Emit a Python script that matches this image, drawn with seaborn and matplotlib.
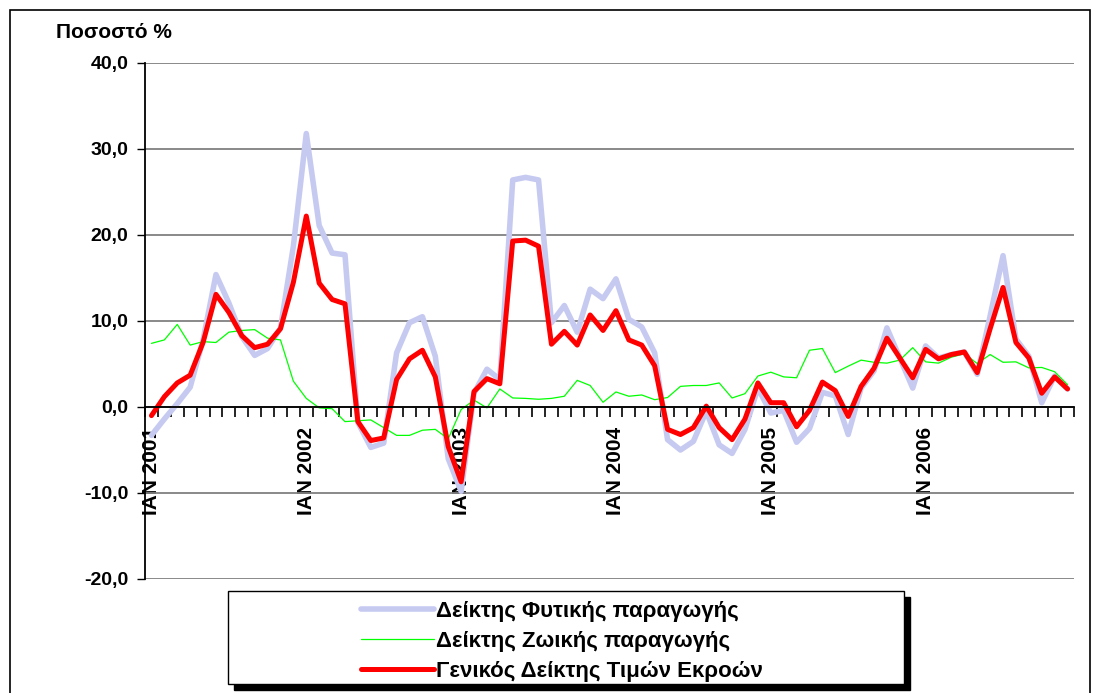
import matplotlib
matplotlib.use('Agg')
import matplotlib.pyplot as plt
import matplotlib.ticker as mticker
from matplotlib.patches import Rectangle
import seaborn as sns
import pandas as pd

# monthly percentage change, Jan 2001 - Dec 2006
phytiki = [-3.3, -1.4, 0.4, 2.3, 7.8, 15.4, 12.1, 8.2, 6.0, 6.8, 9.2, 18.7,
           31.8, 21.1, 17.9, 17.7, -1.8, -4.7, -4.2, 6.3, 9.8, 10.5, 5.9, -6.0,
           -9.8, 1.6, 4.4, 3.2, 26.4, 26.7, 26.4, 9.8, 11.8, 8.7, 13.7, 12.6,
           14.9, 10.2, 9.3, 6.3, -3.8, -5.0, -4.0, -0.5, -4.4, -5.4, -2.6, 2.2,
           -0.7, -0.4, -4.1, -2.5, 1.7, 1.3, -3.2, 2.2, 4.2, 9.2, 5.7, 2.2,
           7.1, 5.7, 6.1, 6.4, 3.8, 10.6, 17.6, 7.9, 5.9, 0.5, 3.6, 2.1]
zoiki = [7.4, 7.8, 9.6, 7.2, 7.6, 7.5, 8.7, 8.9, 9.0, 8.0, 7.8, 3.0,
         1.0, -0.1, -0.2, -1.7, -1.6, -1.5, -2.4, -3.3, -3.3, -2.7, -2.6, -3.7,
         -0.3, 0.8, -0.1, 2.1, 1.05, 1.0, 0.9, 1.0, 1.25, 3.1, 2.5, 0.55,
         1.75, 1.25, 1.4, 0.85, 1.1, 2.4, 2.5, 2.5, 2.8, 1.05, 1.55, 3.6,
         4.05, 3.5, 3.4, 6.6, 6.8, 4.0, 4.75, 5.45, 5.2, 5.1, 5.45, 6.9,
         5.25, 5.1, 5.8, 6.2, 5.05, 6.1, 5.2, 5.25, 4.55, 4.6, 4.1, 2.6]
genikos = [-1.0, 1.2, 2.8, 3.7, 7.5, 13.1, 11.0, 8.3, 6.9, 7.3, 9.1, 14.5,
           22.2, 14.4, 12.5, 12.0, -1.7, -3.9, -3.6, 3.2, 5.6, 6.6, 3.5, -4.6,
           -8.7, 1.8, 3.3, 2.7, 19.3, 19.4, 18.7, 7.3, 8.8, 7.2, 10.7, 8.9,
           11.2, 7.8, 7.2, 4.8, -2.6, -3.2, -2.4, 0.1, -2.4, -3.8, -1.4, 2.8,
           0.5, 0.5, -2.3, -0.4, 2.9, 1.9, -1.1, 2.4, 4.5, 8.0, 5.7, 3.4,
           6.7, 5.6, 6.1, 6.4, 4.0, 9.1, 13.9, 7.5, 5.7, 1.6, 3.5, 2.1]
years = ['2001', '2002', '2003', '2004', '2005', '2006']

labels = ['Δείκτης Φυτικής παραγωγής', 'Δείκτης Ζωικής παραγωγής',
          'Γενικός Δείκτης Τιμών Εκροών']

df = pd.DataFrame({'month': range(len(genikos)), labels[0]: phytiki,
                   labels[1]: zoiki, labels[2]: genikos})

sns.set_style('white')
plt.rcParams['font.family'] = ['Liberation Sans', 'DejaVu Sans']
plt.rcParams['font.weight'] = 'bold'
plt.rcParams['text.color'] = 'black'

fig = plt.figure(figsize=(10.93, 6.93), dpi=100)
ax = fig.add_axes([145 / 1093, 1 - 579 / 693, 929 / 1093, 516 / 693])

sns.lineplot(data=df, x='month', y=labels[0], ax=ax, color='#c6caf1',
             linewidth=4.0, label=labels[0])
sns.lineplot(data=df, x='month', y=labels[1], ax=ax, color='#00ff00',
             linewidth=0.9, label=labels[1])
sns.lineplot(data=df, x='month', y=labels[2], ax=ax, color='#ff0000',
             linewidth=3.6, label=labels[2])

ax.set_xlim(-0.5, len(genikos) - 0.5)
ax.set_ylim(-20, 40)
ax.set_xlabel('')
ax.set_ylabel('')

# y axis
ax.yaxis.set_major_locator(mticker.MultipleLocator(10))
ax.yaxis.set_major_formatter(mticker.FuncFormatter(lambda v, p: f'{v:.1f}'.replace('.', ',')))
ax.tick_params(axis='y', which='major', left=True, length=6, width=1,
               direction='out', labelsize=14, pad=6, colors='black')
ax.grid(axis='y', color='#808080', linewidth=1.3)
ax.grid(axis='x', visible=False)

# x axis crossing at zero, ticks between months, year labels on January
ax.spines['bottom'].set_position(('data', 0))
ax.spines['bottom'].set_color('black')
ax.spines['bottom'].set_linewidth(1.3)
ax.spines['left'].set_color('black')
ax.spines['left'].set_linewidth(1.3)
ax.spines['top'].set_visible(False)
ax.spines['right'].set_visible(False)
ax.xaxis.set_major_locator(mticker.FixedLocator([i - 0.5 for i in range(len(genikos) + 1)]))
ax.xaxis.set_major_formatter(mticker.NullFormatter())
ax.xaxis.set_minor_locator(mticker.FixedLocator([12 * k for k in range(len(years))]))
ax.xaxis.set_minor_formatter(mticker.FixedFormatter(['ΙΑΝ ' + y for y in years]))
ax.tick_params(axis='x', which='major', bottom=True, length=7, width=1.2,
               direction='out', colors='black')
ax.tick_params(axis='x', which='minor', bottom=True, length=0, pad=14,
               labelsize=15, labelrotation=90, colors='black')
for t in ax.xaxis.get_minorticklabels():
    t.set_fontweight('bold')
    t.set_verticalalignment('top')
ax.get_legend().remove()

fig.text(56 / 1093, 1 - 32 / 693, 'Ποσοστό %', fontsize=15, fontweight='bold',
         va='center', ha='left', color='black')

# outer chart border
fig.patches.append(Rectangle((10 / 1093, -0.02), 1080 / 1093, 1 - 10 / 693 + 0.02,
                             transform=fig.transFigure, fill=False,
                             edgecolor='black', linewidth=1.2))

# legend box with solid shadow
bx, by, bw, bh = 228, 591, 676, 93
fig.patches.append(Rectangle(((bx + 6) / 1093, 1 - (by + bh + 6) / 693), bw / 1093, bh / 693,
                             transform=fig.transFigure, facecolor='black',
                             edgecolor='black', zorder=5))
fig.patches.append(Rectangle((bx / 1093, 1 - (by + bh) / 693), bw / 1093, bh / 693,
                             transform=fig.transFigure, facecolor='white',
                             edgecolor='black', linewidth=1, zorder=6))
handles, _ = ax.get_legend_handles_labels()
leg = fig.legend(handles, labels, loc='upper left',
                 bbox_to_anchor=(352 / 1093, 1 - 592 / 693), frameon=False,
                 prop={'size': 16, 'weight': 'bold'}, handlelength=3.3,
                 handletextpad=0.1, labelspacing=0.41, borderaxespad=0)
leg.set_zorder(7)

fig.savefig('out.png', dpi=100)
